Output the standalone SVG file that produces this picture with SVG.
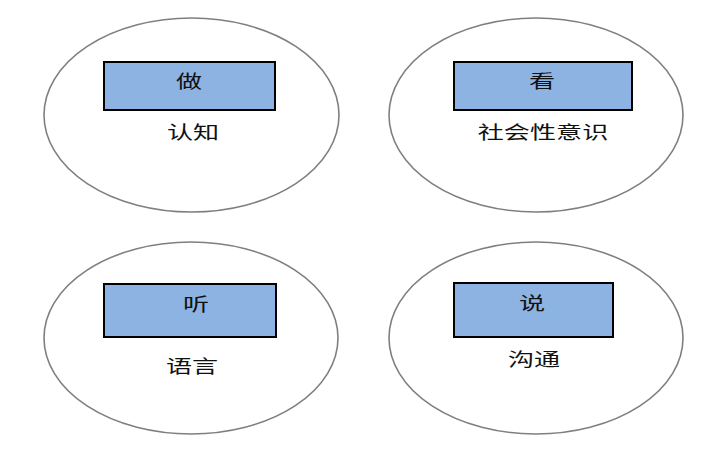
<svg xmlns="http://www.w3.org/2000/svg" width="728" height="451" viewBox="0 0 728 451">
<style>
.oval{fill:#fff;stroke:#7f7f7f;stroke-width:1.6}
.box{fill:#8db3e2;stroke:#000;stroke-width:2}
.t{font-family:"Liberation Sans","Noto Sans CJK SC",sans-serif;font-size:18px;fill:#111;text-anchor:middle}
</style>
<rect width="728" height="451" fill="#fff"/>
<g id="node-do">
<ellipse class="oval" cx="191.5" cy="115" rx="147.5" ry="97"/>
<rect class="box" x="104" y="62" width="171" height="48"/>
<text class="t" transform="translate(189,88) scale(1.45,1)">做</text>
<text class="t" transform="translate(193,139) scale(1.45,1)">认知</text>
</g>
<g id="node-see">
<ellipse class="oval" cx="536" cy="115" rx="147" ry="97"/>
<rect class="box" x="454" y="62" width="178" height="48"/>
<text class="t" transform="translate(542,88) scale(1.45,1)">看</text>
<text class="t" transform="translate(543,139) scale(1.45,1)">社会性意识</text>
</g>
<g id="node-listen">
<ellipse class="oval" cx="191" cy="338" rx="147" ry="96"/>
<rect class="box" x="104" y="284" width="172" height="53"/>
<text class="t" transform="translate(196,311) scale(1.45,1)">听</text>
<text class="t" transform="translate(192,373) scale(1.45,1)">语言</text>
</g>
<g id="node-speak">
<ellipse class="oval" cx="536" cy="338" rx="147" ry="96"/>
<rect class="box" x="454" y="283" width="159" height="54"/>
<text class="t" transform="translate(532,310) scale(1.45,1)">说</text>
<text class="t" transform="translate(534,366) scale(1.45,1)">沟通</text>
</g>
<g id="connectors"></g>
</svg>
